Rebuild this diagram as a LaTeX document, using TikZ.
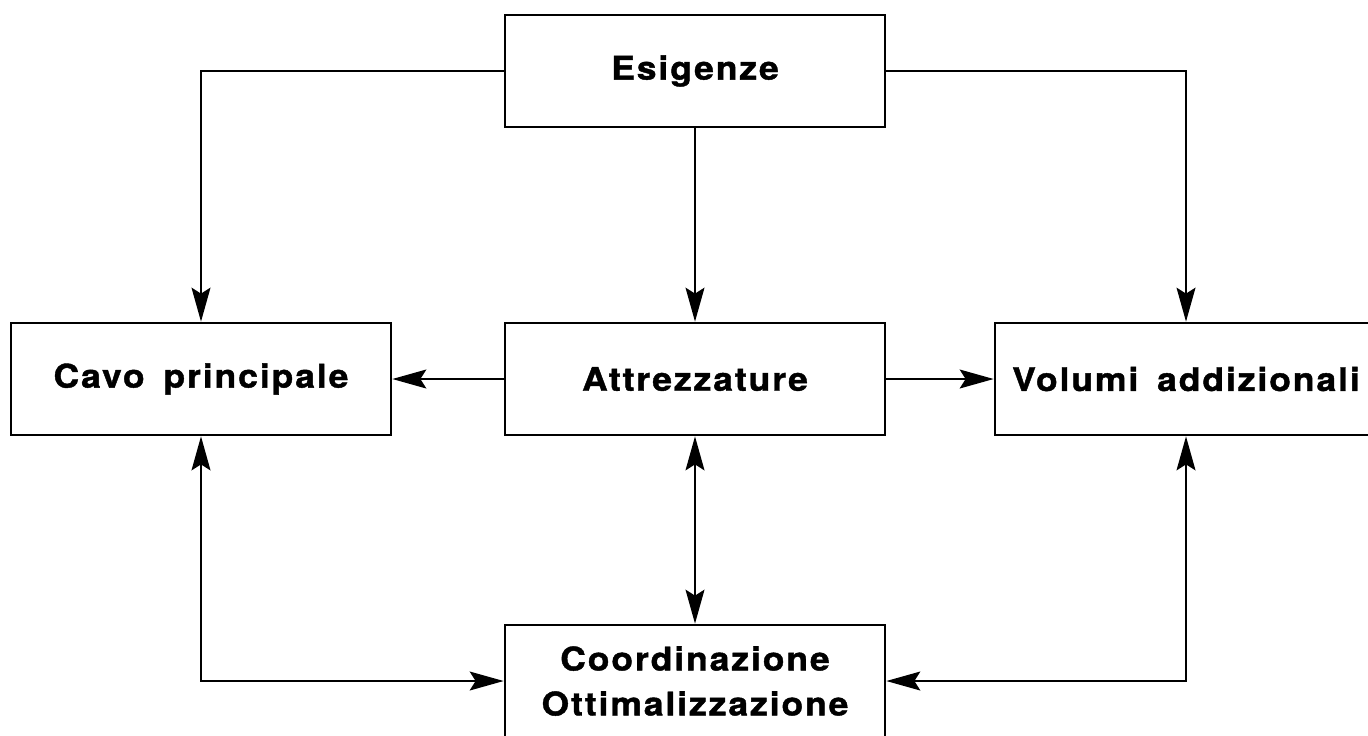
\documentclass[tikz,border=0pt]{standalone}
\usepackage{fontspec}
\setmainfont{TeX Gyre Heros}
\newfontfamily\bloccofamily[FakeStretch=1.09, FakeBold=1.3, LetterSpace=6, WordSpace=1.6]{TeX Gyre Heros Bold}
\usetikzlibrary{arrows.meta}

\newcommand{\bloccofont}{\bloccofamily\fontsize{18.5}{25.6}\selectfont}

\tikzset{
  blocco/.style={draw, line width=1.6pt, minimum width=7.6cm, minimum height=2.24cm,
    inner sep=0pt, align=center, font=\bloccofont},
  freccia/.style={line width=0.8pt},
}

\begin{document}
\begin{tikzpicture}[x=0.02cm, y=-0.02cm, >={Stealth[length=6.8mm,width=3.8mm,inset=1.2mm]}]
        \useasboundingbox (0,0) rectangle (1368,735); % margini

        \node[blocco] (esig) at (695,71) {Esigenze}; % in alto
        \node[blocco] (cavo) at (201,379) {Cavo principale};
        \node[blocco] (attr) at (695,379) {Attrezzature};
        \node[blocco, minimum width=7.64cm] (vol) at (1186,379) {Volumi addizionali};
        \node[blocco] (coord) at (695,681) {Coordinazione\\Ottimalizzazione}; % in basso

        \draw [freccia,->] (esig.west) -| (cavo.north);
        \draw [freccia,->] (esig.east) -| (vol.north);
        \draw [freccia,->] (esig) -- (attr);

        \draw [freccia,->] (attr) -- (cavo);
        \draw [freccia,->] (attr) -- (vol);

        \draw [freccia,<->] (attr) -- (coord);
        \draw [freccia,<->] (cavo.south) |- (coord.west);
        \draw [freccia,<->] (vol.south) |- (coord.east);
    \end{tikzpicture}
\end{document}
